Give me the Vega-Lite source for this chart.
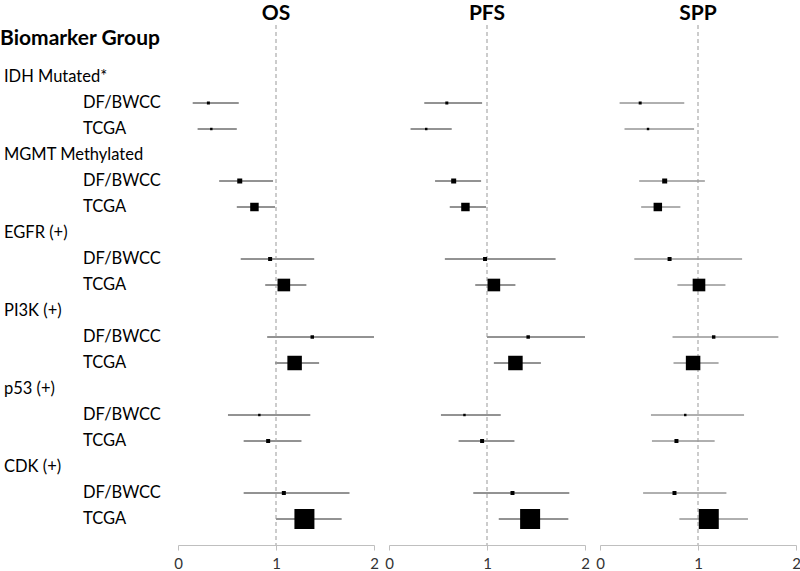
{
  "$schema": "https://vega.github.io/schema/vega-lite/v6.json",
  "padding": {"top": 2, "left": 0, "right": 0, "bottom": 0},
  "spacing": 15,
  "bounds": "flush",
  "background": "white",
  "config": {
    "view": {"stroke": null},
    "font": "Lato",
    "title": {"font": "Lato", "fontSize": 21, "fontWeight": "bold", "color": "#000000", "offset": 1, "anchor": "middle"},
    "axis": {"labelFont": "Lato", "labelFontSize": 15, "labelColor": "#333333", "domainColor": "#bfbfbf", "tickColor": "#bfbfbf", "tickSize": 5, "labelPadding": 6, "grid": false, "title": null, "labelOverlap": false, "labelFlush": false}
  },
  "datasets": {
    "labels": [
      {"key": "Biomarker Group", "text": "Biomarker Group", "level": "header"},
      {"key": "IDH Mutated*", "text": "IDH Mutated*", "level": "group"},
      {"key": "IDH Mutated* / DF/BWCC", "text": "DF/BWCC", "level": "cohort"},
      {"key": "IDH Mutated* / TCGA", "text": "TCGA", "level": "cohort"},
      {"key": "MGMT Methylated", "text": "MGMT Methylated", "level": "group"},
      {"key": "MGMT Methylated / DF/BWCC", "text": "DF/BWCC", "level": "cohort"},
      {"key": "MGMT Methylated / TCGA", "text": "TCGA", "level": "cohort"},
      {"key": "EGFR (+)", "text": "EGFR (+)", "level": "group"},
      {"key": "EGFR (+) / DF/BWCC", "text": "DF/BWCC", "level": "cohort"},
      {"key": "EGFR (+) / TCGA", "text": "TCGA", "level": "cohort"},
      {"key": "PI3K (+)", "text": "PI3K (+)", "level": "group"},
      {"key": "PI3K (+) / DF/BWCC", "text": "DF/BWCC", "level": "cohort"},
      {"key": "PI3K (+) / TCGA", "text": "TCGA", "level": "cohort"},
      {"key": "p53 (+)", "text": "p53 (+)", "level": "group"},
      {"key": "p53 (+) / DF/BWCC", "text": "DF/BWCC", "level": "cohort"},
      {"key": "p53 (+) / TCGA", "text": "TCGA", "level": "cohort"},
      {"key": "CDK (+)", "text": "CDK (+)", "level": "group"},
      {"key": "CDK (+) / DF/BWCC", "text": "DF/BWCC", "level": "cohort"},
      {"key": "CDK (+) / TCGA", "text": "TCGA", "level": "cohort"}
    ],
    "est": [
      {"endpoint": "OS", "key": "IDH Mutated* / DF/BWCC", "hr": 0.31, "lo": 0.15, "hi": 0.62, "weight": 9},
      {"endpoint": "OS", "key": "IDH Mutated* / TCGA", "hr": 0.34, "lo": 0.20, "hi": 0.60, "weight": 6},
      {"endpoint": "OS", "key": "MGMT Methylated / DF/BWCC", "hr": 0.63, "lo": 0.42, "hi": 0.97, "weight": 25},
      {"endpoint": "OS", "key": "MGMT Methylated / TCGA", "hr": 0.78, "lo": 0.60, "hi": 0.99, "weight": 72},
      {"endpoint": "OS", "key": "EGFR (+) / DF/BWCC", "hr": 0.94, "lo": 0.64, "hi": 1.39, "weight": 16},
      {"endpoint": "OS", "key": "EGFR (+) / TCGA", "hr": 1.08, "lo": 0.89, "hi": 1.31, "weight": 160},
      {"endpoint": "OS", "key": "PI3K (+) / DF/BWCC", "hr": 1.37, "lo": 0.91, "hi": 2.0, "weight": 12},
      {"endpoint": "OS", "key": "PI3K (+) / TCGA", "hr": 1.19, "lo": 0.99, "hi": 1.44, "weight": 210},
      {"endpoint": "OS", "key": "p53 (+) / DF/BWCC", "hr": 0.83, "lo": 0.51, "hi": 1.35, "weight": 6},
      {"endpoint": "OS", "key": "p53 (+) / TCGA", "hr": 0.92, "lo": 0.67, "hi": 1.26, "weight": 16},
      {"endpoint": "OS", "key": "CDK (+) / DF/BWCC", "hr": 1.08, "lo": 0.67, "hi": 1.75, "weight": 16},
      {"endpoint": "OS", "key": "CDK (+) / TCGA", "hr": 1.29, "lo": 1.0, "hi": 1.67, "weight": 400},
      {"endpoint": "PFS", "key": "IDH Mutated* / DF/BWCC", "hr": 0.59, "lo": 0.36, "hi": 0.95, "weight": 9},
      {"endpoint": "PFS", "key": "IDH Mutated* / TCGA", "hr": 0.38, "lo": 0.22, "hi": 0.64, "weight": 6},
      {"endpoint": "PFS", "key": "MGMT Methylated / DF/BWCC", "hr": 0.66, "lo": 0.47, "hi": 0.94, "weight": 25},
      {"endpoint": "PFS", "key": "MGMT Methylated / TCGA", "hr": 0.78, "lo": 0.62, "hi": 0.99, "weight": 72},
      {"endpoint": "PFS", "key": "EGFR (+) / DF/BWCC", "hr": 0.98, "lo": 0.57, "hi": 1.70, "weight": 16},
      {"endpoint": "PFS", "key": "EGFR (+) / TCGA", "hr": 1.07, "lo": 0.88, "hi": 1.29, "weight": 160},
      {"endpoint": "PFS", "key": "PI3K (+) / DF/BWCC", "hr": 1.42, "lo": 1.0, "hi": 2.0, "weight": 12},
      {"endpoint": "PFS", "key": "PI3K (+) / TCGA", "hr": 1.29, "lo": 1.07, "hi": 1.55, "weight": 210},
      {"endpoint": "PFS", "key": "p53 (+) / DF/BWCC", "hr": 0.77, "lo": 0.53, "hi": 1.14, "weight": 6},
      {"endpoint": "PFS", "key": "p53 (+) / TCGA", "hr": 0.95, "lo": 0.71, "hi": 1.28, "weight": 16},
      {"endpoint": "PFS", "key": "CDK (+) / DF/BWCC", "hr": 1.26, "lo": 0.86, "hi": 1.84, "weight": 16},
      {"endpoint": "PFS", "key": "CDK (+) / TCGA", "hr": 1.44, "lo": 1.12, "hi": 1.83, "weight": 400},
      {"endpoint": "SPP", "key": "IDH Mutated* / DF/BWCC", "hr": 0.41, "lo": 0.20, "hi": 0.86, "weight": 9},
      {"endpoint": "SPP", "key": "IDH Mutated* / TCGA", "hr": 0.49, "lo": 0.25, "hi": 0.96, "weight": 6},
      {"endpoint": "SPP", "key": "MGMT Methylated / DF/BWCC", "hr": 0.66, "lo": 0.40, "hi": 1.07, "weight": 25},
      {"endpoint": "SPP", "key": "MGMT Methylated / TCGA", "hr": 0.59, "lo": 0.42, "hi": 0.82, "weight": 72},
      {"endpoint": "SPP", "key": "EGFR (+) / DF/BWCC", "hr": 0.71, "lo": 0.35, "hi": 1.45, "weight": 16},
      {"endpoint": "SPP", "key": "EGFR (+) / TCGA", "hr": 1.01, "lo": 0.79, "hi": 1.28, "weight": 160},
      {"endpoint": "SPP", "key": "PI3K (+) / DF/BWCC", "hr": 1.16, "lo": 0.74, "hi": 1.82, "weight": 12},
      {"endpoint": "SPP", "key": "PI3K (+) / TCGA", "hr": 0.95, "lo": 0.75, "hi": 1.21, "weight": 210},
      {"endpoint": "SPP", "key": "p53 (+) / DF/BWCC", "hr": 0.87, "lo": 0.52, "hi": 1.47, "weight": 6},
      {"endpoint": "SPP", "key": "p53 (+) / TCGA", "hr": 0.78, "lo": 0.53, "hi": 1.17, "weight": 16},
      {"endpoint": "SPP", "key": "CDK (+) / DF/BWCC", "hr": 0.76, "lo": 0.44, "hi": 1.29, "weight": 16},
      {"endpoint": "SPP", "key": "CDK (+) / TCGA", "hr": 1.11, "lo": 0.81, "hi": 1.51, "weight": 400}
    ],
    "ref": [{"ref": 1}]
  },
  "hconcat": [
    {
      "width": 163,
      "height": 520,
      "data": {"name": "labels"},
      "layer": [
        {
          "transform": [{"filter": "datum.level !== 'header'"}],
          "mark": {"type": "text", "align": "left", "baseline": "middle", "fontSize": 16.5, "color": "#000000", "font": "Lato"},
          "encoding": {
            "x": {"field": "level", "type": "nominal", "scale": {"type": "point", "domain": ["group", "cohort"], "range": [4, 83], "padding": 0}, "axis": null},
            "y": {"field": "key", "type": "nominal", "scale": {"type": "point", "padding": 1, "domain": ["Biomarker Group","IDH Mutated*","IDH Mutated* / DF/BWCC","IDH Mutated* / TCGA","MGMT Methylated","MGMT Methylated / DF/BWCC","MGMT Methylated / TCGA","EGFR (+)","EGFR (+) / DF/BWCC","EGFR (+) / TCGA","PI3K (+)","PI3K (+) / DF/BWCC","PI3K (+) / TCGA","p53 (+)","p53 (+) / DF/BWCC","p53 (+) / TCGA","CDK (+)","CDK (+) / DF/BWCC","CDK (+) / TCGA"]}, "axis": null},
            "text": {"field": "text", "type": "nominal"}
          }
        },
        {
          "transform": [{"filter": "datum.level === 'header'"}],
          "mark": {"type": "text", "align": "left", "baseline": "middle", "fontSize": 21, "fontWeight": "bold", "color": "#000000", "font": "Lato", "dx": -4, "dy": -12},
          "encoding": {
            "x": {"datum": "group", "type": "nominal", "scale": {"type": "point", "domain": ["group", "cohort"], "range": [4, 83], "padding": 0}, "axis": null},
            "y": {"field": "key", "type": "nominal", "axis": null},
            "text": {"field": "text", "type": "nominal"}
          }
        }
      ]
    },
    {
      "width": 196,
      "height": 520,
      "title": "OS",
      "layer": [
        {
          "data": {"name": "est"},
          "transform": [{"filter": "datum.endpoint === 'OS'"}],
          "mark": {"type": "rule", "color": "#262626", "strokeWidth": 1},
          "encoding": {
            "x": {"field": "lo", "type": "quantitative", "scale": {"domain": [0, 2], "nice": false}, "axis": {"values": [0, 0.5, 1, 1.5, 2], "labelExpr": "datum.value == 0.5 || datum.value == 1.5 ? '' : format(datum.value, 'd')", "tickOpacity": {"condition": {"test": "datum.value == 0.5 || datum.value == 1.5", "value": 0}, "value": 1}}},
            "x2": {"field": "hi"},
            "y": {"field": "key", "type": "nominal", "scale": {"type": "point", "padding": 1, "domain": ["Biomarker Group","IDH Mutated*","IDH Mutated* / DF/BWCC","IDH Mutated* / TCGA","MGMT Methylated","MGMT Methylated / DF/BWCC","MGMT Methylated / TCGA","EGFR (+)","EGFR (+) / DF/BWCC","EGFR (+) / TCGA","PI3K (+)","PI3K (+) / DF/BWCC","PI3K (+) / TCGA","p53 (+)","p53 (+) / DF/BWCC","p53 (+) / TCGA","CDK (+)","CDK (+) / DF/BWCC","CDK (+) / TCGA"]}, "axis": null}
          }
        },
        {
          "data": {"name": "ref"},
          "mark": {"type": "rule", "color": "#999999", "strokeDash": [4, 3], "strokeWidth": 1},
          "encoding": {"x": {"field": "ref", "type": "quantitative"}}
        },
        {
          "data": {"name": "est"},
          "transform": [{"filter": "datum.endpoint === 'OS'"}],
          "mark": {"type": "square", "filled": true, "color": "#000000", "opacity": 1},
          "encoding": {
            "x": {"field": "hr", "type": "quantitative"},
            "y": {"field": "key", "type": "nominal", "axis": null},
            "size": {"field": "weight", "type": "quantitative", "scale": {"domain": [0, 400], "range": [0, 400]}, "legend": null}
          }
        }
      ]
    },
    {
      "width": 196,
      "height": 520,
      "title": "PFS",
      "layer": [
        {
          "data": {"name": "est"},
          "transform": [{"filter": "datum.endpoint === 'PFS'"}],
          "mark": {"type": "rule", "color": "#262626", "strokeWidth": 1},
          "encoding": {
            "x": {"field": "lo", "type": "quantitative", "scale": {"domain": [0, 2], "nice": false}, "axis": {"values": [0, 0.5, 1, 1.5, 2], "labelExpr": "datum.value == 0.5 || datum.value == 1.5 ? '' : format(datum.value, 'd')", "tickOpacity": {"condition": {"test": "datum.value == 0.5 || datum.value == 1.5", "value": 0}, "value": 1}}},
            "x2": {"field": "hi"},
            "y": {"field": "key", "type": "nominal", "scale": {"type": "point", "padding": 1, "domain": ["Biomarker Group","IDH Mutated*","IDH Mutated* / DF/BWCC","IDH Mutated* / TCGA","MGMT Methylated","MGMT Methylated / DF/BWCC","MGMT Methylated / TCGA","EGFR (+)","EGFR (+) / DF/BWCC","EGFR (+) / TCGA","PI3K (+)","PI3K (+) / DF/BWCC","PI3K (+) / TCGA","p53 (+)","p53 (+) / DF/BWCC","p53 (+) / TCGA","CDK (+)","CDK (+) / DF/BWCC","CDK (+) / TCGA"]}, "axis": null}
          }
        },
        {
          "data": {"name": "ref"},
          "mark": {"type": "rule", "color": "#999999", "strokeDash": [4, 3], "strokeWidth": 1},
          "encoding": {"x": {"field": "ref", "type": "quantitative"}}
        },
        {
          "data": {"name": "est"},
          "transform": [{"filter": "datum.endpoint === 'PFS'"}],
          "mark": {"type": "square", "filled": true, "color": "#000000", "opacity": 1},
          "encoding": {
            "x": {"field": "hr", "type": "quantitative"},
            "y": {"field": "key", "type": "nominal", "axis": null},
            "size": {"field": "weight", "type": "quantitative", "scale": {"domain": [0, 400], "range": [0, 400]}, "legend": null}
          }
        }
      ]
    },
    {
      "width": 196,
      "height": 520,
      "title": "SPP",
      "layer": [
        {
          "data": {"name": "est"},
          "transform": [{"filter": "datum.endpoint === 'SPP'"}],
          "mark": {"type": "rule", "color": "#606060", "strokeWidth": 1},
          "encoding": {
            "x": {"field": "lo", "type": "quantitative", "scale": {"domain": [0, 2], "nice": false}, "axis": {"values": [0, 0.5, 1, 1.5, 2], "labelExpr": "datum.value == 0.5 || datum.value == 1.5 ? '' : format(datum.value, 'd')", "tickOpacity": {"condition": {"test": "datum.value == 0.5 || datum.value == 1.5", "value": 0}, "value": 1}}},
            "x2": {"field": "hi"},
            "y": {"field": "key", "type": "nominal", "scale": {"type": "point", "padding": 1, "domain": ["Biomarker Group","IDH Mutated*","IDH Mutated* / DF/BWCC","IDH Mutated* / TCGA","MGMT Methylated","MGMT Methylated / DF/BWCC","MGMT Methylated / TCGA","EGFR (+)","EGFR (+) / DF/BWCC","EGFR (+) / TCGA","PI3K (+)","PI3K (+) / DF/BWCC","PI3K (+) / TCGA","p53 (+)","p53 (+) / DF/BWCC","p53 (+) / TCGA","CDK (+)","CDK (+) / DF/BWCC","CDK (+) / TCGA"]}, "axis": null}
          }
        },
        {
          "data": {"name": "ref"},
          "mark": {"type": "rule", "color": "#999999", "strokeDash": [4, 3], "strokeWidth": 1},
          "encoding": {"x": {"field": "ref", "type": "quantitative"}}
        },
        {
          "data": {"name": "est"},
          "transform": [{"filter": "datum.endpoint === 'SPP'"}],
          "mark": {"type": "square", "filled": true, "color": "#000000", "opacity": 1},
          "encoding": {
            "x": {"field": "hr", "type": "quantitative"},
            "y": {"field": "key", "type": "nominal", "axis": null},
            "size": {"field": "weight", "type": "quantitative", "scale": {"domain": [0, 400], "range": [0, 400]}, "legend": null}
          }
        }
      ]
    }
  ]
}
